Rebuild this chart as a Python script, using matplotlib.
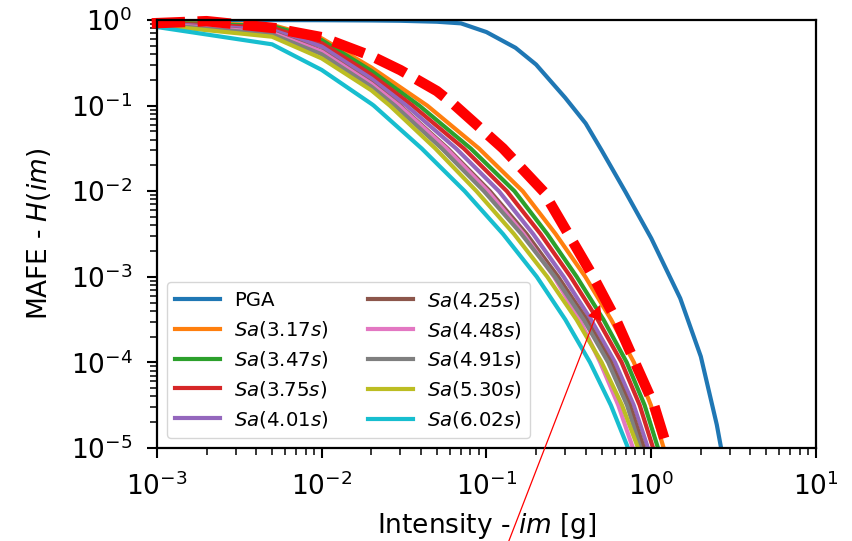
import matplotlib
matplotlib.use("Agg")
import matplotlib.pyplot as plt

# intensity values where the upper parts of the Sa curves were read
im_top = [0.001, 0.005, 0.01, 0.02]
# MAFE levels where the lower parts of the Sa curves were read
mafe_low = [1e-1, 3.16e-2, 1e-2, 3.16e-3, 1e-3, 3.16e-4, 1e-4, 3.16e-5, 1e-5, 1e-6]

# PGA
im_pga = [0.001, 0.005, 0.01, 0.02, 0.03, 0.05, 0.07, 0.1, 0.15, 0.2, 0.3,
          0.4, 0.5, 0.7, 1.0, 1.5, 2.0, 2.5, 3.0]
mafe_pga = [1.0, 0.998, 0.995, 0.988, 0.98, 0.955, 0.914, 0.723, 0.474, 0.302,
            0.124, 0.062, 0.030, 0.0097, 2.82e-3, 5.6e-4, 1.17e-4, 1.87e-5, 2.8e-6]

# Sa curves: MAFE at im_top, then im at mafe_low
top_317 = [0.933, 0.875, 0.611, 0.279]
low_317 = [0.0437, 0.09, 0.166, 0.263, 0.398, 0.571, 0.785, 0.995, 1.19, 1.58]
top_347 = [0.933, 0.851, 0.583, 0.255]
low_347 = [0.0391, 0.0802, 0.148, 0.234, 0.353, 0.513, 0.71, 0.912, 1.099, 1.45]
top_375 = [0.923, 0.813, 0.537, 0.23]
low_375 = [0.0356, 0.0728, 0.133, 0.213, 0.324, 0.473, 0.661, 0.851, 1.026, 1.35]
top_401 = [0.912, 0.764, 0.49, 0.207]
low_401 = [0.0327, 0.0653, 0.119, 0.192, 0.294, 0.431, 0.603, 0.783, 0.955, 1.26]
top_425 = [0.902, 0.718, 0.435, 0.184]
low_425 = [0.0299, 0.0581, 0.105, 0.175, 0.272, 0.405, 0.569, 0.741, 0.902, 1.19]
top_448 = [0.902, 0.708, 0.427, 0.18]
low_448 = [0.0295, 0.0571, 0.102, 0.168, 0.257, 0.367, 0.49, 0.631, 0.774, 1.02]
top_491 = [0.891, 0.681, 0.398, 0.167]
low_491 = [0.0278, 0.0535, 0.0966, 0.163, 0.26, 0.389, 0.548, 0.713, 0.861, 1.135]
top_530 = [0.871, 0.638, 0.356, 0.151]
low_530 = [0.0259, 0.0489, 0.087, 0.147, 0.234, 0.352, 0.5, 0.665, 0.832, 1.12]
top_602 = [0.828, 0.52, 0.261, 0.105]
low_602 = [0.0207, 0.0404, 0.0738, 0.126, 0.202, 0.301, 0.425, 0.569, 0.723, 1.05]

periods = ["3.17", "3.47", "3.75", "4.01", "4.25", "4.48", "4.91", "5.30", "6.02"]
sa_tops = [top_317, top_347, top_375, top_401, top_425, top_448, top_491, top_530, top_602]
sa_lows = [low_317, low_347, low_375, low_401, low_425, low_448, low_491, low_530, low_602]

# red dashed curve
im_red = [0.001, 0.002, 0.005, 0.01, 0.02, 0.03, 0.05, 0.0646, 0.126, 0.221,
          0.314, 0.445, 0.611, 0.796, 1.04, 1.25]
mafe_red = [0.92, 0.97, 0.81, 0.63, 0.38, 0.26, 0.148, 0.1, 0.0316, 0.01,
            3.16e-3, 1e-3, 3.16e-4, 1e-4, 3.16e-5, 1e-5]

# arrow
arrow_tip = (0.49, 4.7e-4)
arrow_tail = (0.105, 2.2e-7)

plt.rcParams['font.size'] = 19
fig = plt.figure(figsize=(8.53, 5.41), dpi=100)
ax = fig.add_axes([0.184, 0.172, 0.7726, 0.791])

ax.plot(im_pga, mafe_pga, lw=3, label="PGA")
for per, top, low in zip(periods, sa_tops, sa_lows):
    ax.plot(im_top + low, top + mafe_low, lw=3, label="$Sa(%ss)$" % per)
ax.plot(im_red, mafe_red, color="red", lw=7.5, dashes=(2.2, 2.2),
        dash_capstyle="projecting", clip_on=False)

ax.annotate("", xy=arrow_tip, xytext=arrow_tail, annotation_clip=False,
            arrowprops=dict(arrowstyle="-|>", color="red", lw=0.9,
                            mutation_scale=23, shrinkA=0, shrinkB=0))

ax.set_xscale("log")
ax.set_yscale("log")
ax.set_xlim(1e-3, 1e1)
ax.set_ylim(1e-5, 1e0)
ax.set_xlabel("Intensity - $im$ [g]", labelpad=7.5)
ax.set_ylabel("MAFE - $H(im)$", labelpad=13)
for s in ax.spines.values():
    s.set_linewidth(1.6)
ax.tick_params(which="major", length=7, width=1.5, pad=10.5)
ax.tick_params(which="minor", length=5, width=1.1)

ax.legend(ncol=2, loc="lower left", fontsize=14.2, handlelength=2.3,
          handletextpad=0.7, labelspacing=0.45, borderaxespad=0.5)

fig.savefig("out.png", dpi=100)
